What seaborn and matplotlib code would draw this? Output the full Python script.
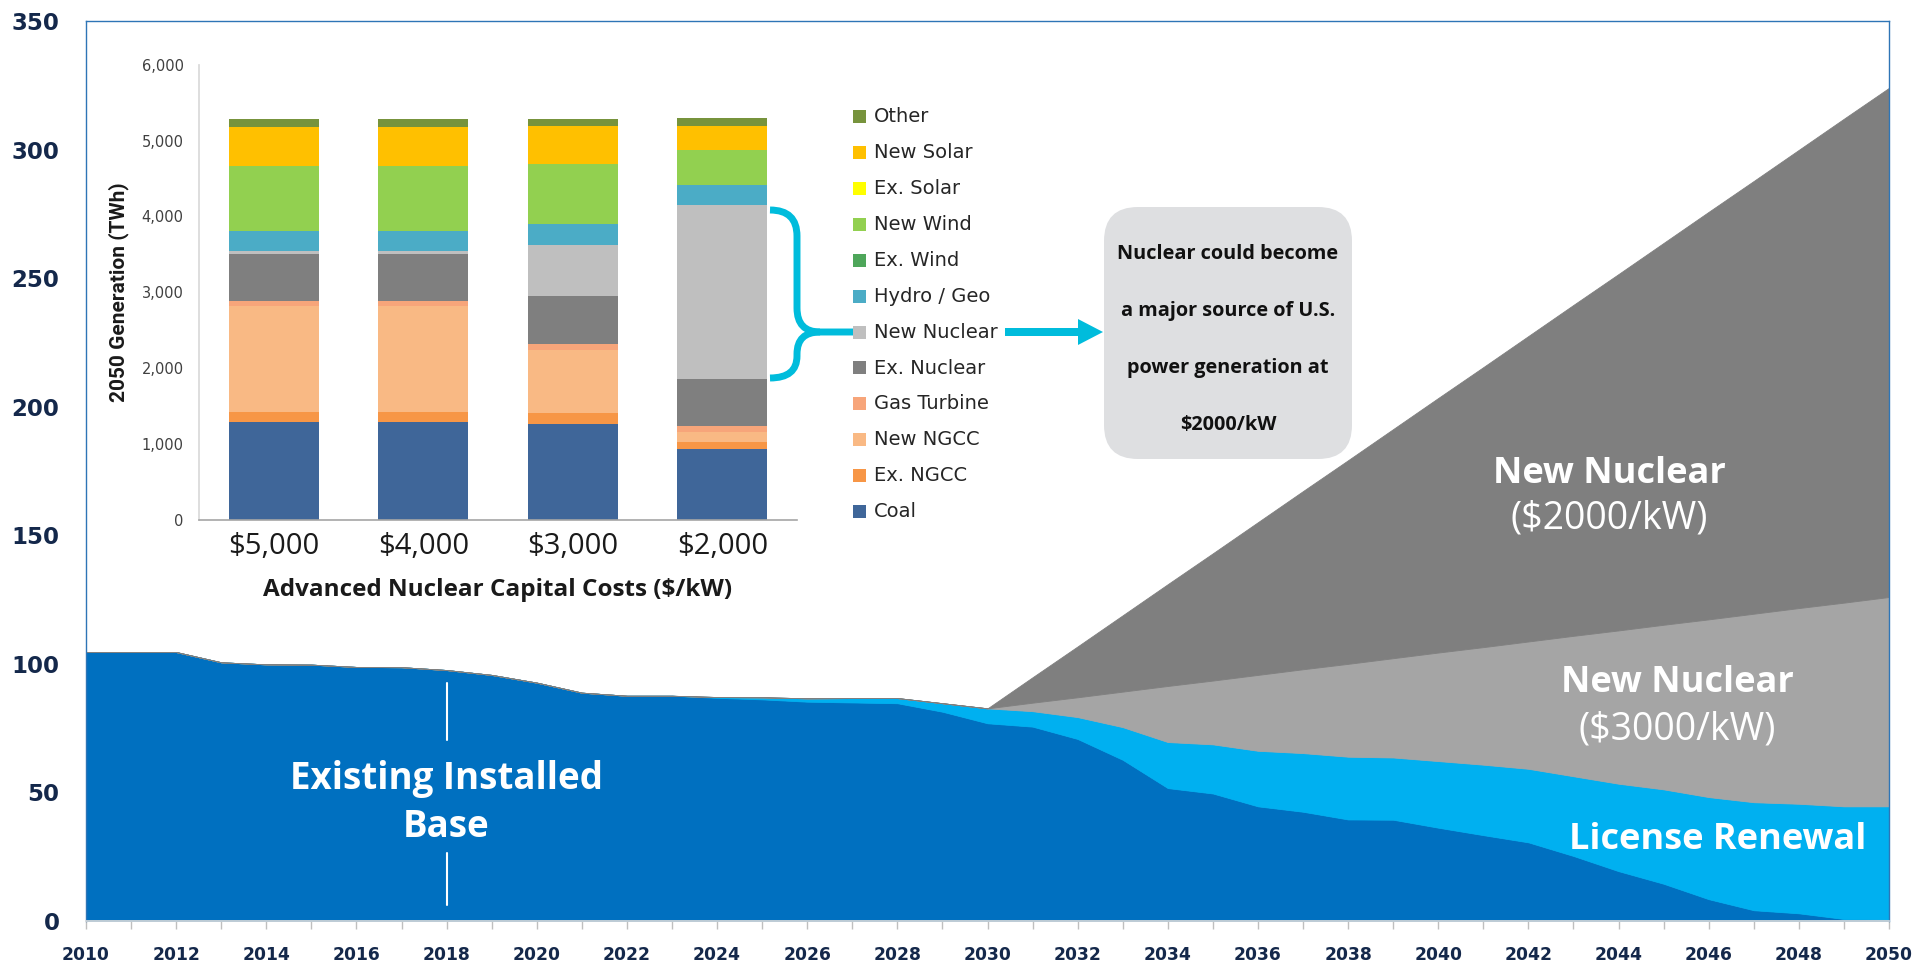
import numpy as np
import pandas as pd
import matplotlib
matplotlib.use("Agg")
import matplotlib.pyplot as plt
import seaborn as sns
from matplotlib.patches import FancyBboxPatch, Rectangle, FancyArrow, PathPatch
from matplotlib.path import Path
from matplotlib.ticker import FuncFormatter, MultipleLocator

# ---------------- main chart data (GW) ----------------
years = list(range(2010, 2051))
existing_base = [104.6, 104.6, 104.6, 100.6, 99.8, 99.7, 98.8, 98.7, 97.6, 95.7,
                 92.7, 88.8, 87.6, 87.6, 86.8, 86.2, 85.3, 85.0, 84.7, 81.4,
                 76.9, 75.6, 70.8, 62.7, 51.7, 49.6, 44.6, 42.5, 39.5, 39.4,
                 36.3, 33.4, 30.6, 25.3, 19.4, 14.5, 8.5, 4.2, 3.0, 0.8, 0.6]
license_renewal = [0, 0, 0, 0, 0, 0, 0, 0, 0, 0,
                   0, 0, 0, 0, 0.3, 0.8, 1.3, 1.7, 2.0, 3.3,
                   5.8, 6.0, 8.5, 12.7, 17.9, 19.1, 21.6, 22.8, 24.4, 24.2,
                   25.9, 27.4, 28.6, 31.0, 34.0, 36.7, 39.7, 42.0, 42.6, 43.8, 44.0]
new_nuclear_3000 = [0] * 21 + [3.3, 7.7, 13.8, 21.8, 24.8, 29.5, 32.6, 36.1, 38.6, 42.2,
                               45.7, 49.5, 54.6, 59.6, 64.0, 69.1, 73.3, 76.1, 79.2, 81.4]
new_nuclear_2000 = [0] * 21 + [9.9, 19.8, 29.7, 39.6, 49.5, 59.4, 69.3, 79.2, 89.1, 99.0,
                               108.9, 118.8, 128.7, 138.6, 148.5, 158.5, 168.3, 178.2, 188.2, 198.0]
y_ticks = [0, 50, 100, 150, 200, 250, 300, 350]
x_ticks = list(range(2010, 2051, 2))

# ---------------- inset data (2050 generation, TWh) ----------------
cost_labels = ["$5,000", "$4,000", "$3,000", "$2,000"]
coal = [1294, 1294, 1265, 929]
ex_ngcc = [131, 131, 136, 92]
new_ngcc = [1387, 1387, 842, 136]
gas_turbine = [68, 68, 73, 73]
ex_nuclear = [623, 623, 628, 623]
new_nuclear = [39, 39, 681, 2297]
hydro_geo = [268, 268, 273, 263]
ex_wind = [0, 0, 0, 0]
new_wind = [852, 852, 798, 462]
ex_solar = [0, 0, 0, 0]
new_solar = [521, 521, 496, 321]
other = [102, 102, 92, 97]
inset_ticks = [0, 1000, 2000, 3000, 4000, 5000, 6000]

layers = [("Coal", coal, "#3F6699"), ("Ex. NGCC", ex_ngcc, "#F79646"),
          ("New NGCC", new_ngcc, "#F9B984"), ("Gas Turbine", gas_turbine, "#F7A57A"),
          ("Ex. Nuclear", ex_nuclear, "#7F7F7F"), ("New Nuclear", new_nuclear, "#BFBFBF"),
          ("Hydro / Geo", hydro_geo, "#4BACC6"), ("Ex. Wind", ex_wind, "#4EA65A"),
          ("New Wind", new_wind, "#92D050"), ("Ex. Solar", ex_solar, "#FFFF00"),
          ("New Solar", new_solar, "#FFC000"), ("Other", other, "#77933C")]

sns.set_theme(style="white")
plt.rcParams["font.family"] = ["DejaVu Sans"]

W, H = 1917, 963
fig = plt.figure(figsize=(W / 100, H / 100), dpi=100)
fig.patch.set_facecolor("white")

navy = "#14284B"
frame_blue = "#2E75B6"
cyan = "#00BCDC"

# ---------------- main area chart ----------------
ax = fig.add_axes([86 / W, 1 - 921 / H, (1889 - 86) / W, (921 - 21) / H])
ax.stackplot(years, existing_base, license_renewal, new_nuclear_3000, new_nuclear_2000,
             colors=["#0070C0", "#00B0F0", "#A5A5A5", "#7F7F7F"],
             linewidth=0.6, edgecolor="face")
ax.set_xlim(2010, 2050)
ax.set_ylim(0, 350)
ax.set_yticks(y_ticks)
ax.set_xticks(x_ticks)
ax.xaxis.set_minor_locator(MultipleLocator(1))
ax.set_yticklabels([str(v) for v in y_ticks], fontweight="bold", fontsize=16.5, color=navy)
ax.set_xticklabels([str(v) for v in x_ticks], fontweight="bold", fontsize=12.3, color=navy)
ax.tick_params(axis="y", length=0, pad=19)
ax.tick_params(axis="x", which="both", length=6, width=1, color="#BFBFBF",
               direction="out", bottom=True, pad=12)
for s in ["left", "top", "right"]:
    ax.spines[s].set_color(frame_blue)
    ax.spines[s].set_linewidth(1.0)
ax.spines["bottom"].set_color("#D9D9D9")
ax.grid(False)

# annotations in main chart
ax.plot([2018, 2018], [70.4, 92.4], color="white", lw=1.5)
ax.plot([2018, 2018], [6.2, 26.3], color="white", lw=1.5)
big = dict(ha="center", va="center", color="white", family="Open Sans")
ax.text(2018, 55.4, "Existing Installed", fontweight="bold", fontsize=26.5, **big)
ax.text(2018, 36.6, "Base", fontweight="bold", fontsize=26.5, **big)
ax.text(2043.8, 174.0, "New Nuclear", fontweight="bold", fontsize=26, **big)
ax.text(2043.8, 156.6, "($2000/kW)", fontweight="normal", fontsize=27, **big)
ax.text(2045.3, 92.6, "New Nuclear", fontweight="bold", fontsize=26, **big)
ax.text(2045.3, 74.6, "($3000/kW)", fontweight="normal", fontsize=27, **big)
ax.text(2046.2, 31.4, "License Renewal", fontweight="bold", fontsize=26, **big)

# ---------------- inset stacked bars ----------------
axi = fig.add_axes([199 / W, 1 - 519.6 / H, (797 - 199) / W, (519.6 - 64.8) / H])
axi.set_facecolor("none")
bottom = np.zeros(len(cost_labels))
for name, vals, col in layers:
    sns.barplot(x=cost_labels, y=vals, order=cost_labels, bottom=bottom.copy(),
                color=col, saturation=1, width=0.6, errorbar=None, linewidth=0, ax=axi)
    bottom += np.array(vals, dtype=float)
axi.set_xlim(-0.5, 3.5)
axi.set_ylim(0, 6000)
axi.set_yticks(inset_ticks)
axi.yaxis.set_major_formatter(FuncFormatter(lambda v, p: f"{int(v):,}"))
axi.tick_params(axis="y", length=0, pad=11, labelsize=10.5, labelcolor="#404040")
axi.tick_params(axis="x", length=0, pad=9)
for lbl in axi.get_xticklabels():
    lbl.set_fontfamily("Open Sans")
    lbl.set_fontsize(21)
    lbl.set_color("#1a1a1a")
for s in ["top", "right"]:
    axi.spines[s].set_visible(False)
axi.spines["left"].set_color("#D9D9D9")
axi.spines["bottom"].set_color("#A6A6A6")
axi.spines["bottom"].set_linewidth(1.2)
axi.set_xlabel("Advanced Nuclear Capital Costs ($/kW)", fontsize=17.5, fontweight="bold",
               family="Open Sans", color="#1a1a1a")
axi.xaxis.set_label_coords(0.5, -(590 - 519.6) / (519.6 - 64.8))
axi.xaxis.label.set_va("center")
axi.set_ylabel("2050 Generation (TWh)", fontsize=15, fontweight="bold",
               family=["Liberation Sans Narrow", "Roboto", "DejaVu Sans"], color="#1a1a1a")
axi.yaxis.set_label_coords(-(199 - 118.5) / (797 - 199), 0.5)
axi.yaxis.label.set_va("center")
axi.grid(False)

# ---------------- overlay: legend, brace, arrow, callout ----------------
ov = fig.add_axes([0, 0, 1, 1], zorder=10)
ov.set_xlim(0, W)
ov.set_ylim(H, 0)
ov.axis("off")

for i, (name, vals, col) in enumerate(reversed(layers)):
    y = 116.7 + i * 35.9
    ov.add_patch(Rectangle((853, y - 6.5), 13, 13, facecolor=col, edgecolor="none"))
    ov.text(874, y, name, ha="left", va="center", fontsize=14, color="#262626")

# curly brace
M, C, L = Path.MOVETO, Path.CURVE3, Path.LINETO
top_v = [(770, 210), (797, 210), (797, 236), (797, 308), (797, 332), (820, 332), (853, 332)]
top_c = [M, C, C, L, C, C, L]
bot_v = [(820, 332), (797, 332), (797, 354), (797, 356), (797, 378), (770, 378)]
bot_c = [M, C, C, L, C, C]
for v, c in [(top_v, top_c), (bot_v, bot_c)]:
    ov.add_patch(PathPatch(Path(v, c), facecolor="none", edgecolor=cyan, lw=5,
                           capstyle="butt", joinstyle="round"))

ov.add_patch(FancyArrow(1005, 332, 98, 0, width=8, head_width=26, head_length=25,
                        length_includes_head=True, color=cyan, lw=0))

ov.add_patch(FancyBboxPatch((1104, 207), 248, 252,
                            boxstyle="round,pad=0,rounding_size=34",
                            facecolor="#DEDFE1", edgecolor="none"))
box_lines = ["Nuclear could become", "a major source of U.S.",
             "power generation at", "$2000/kW"]
for i, t in enumerate(box_lines):
    ov.text(1228, 254 + i * 57, t, ha="center", va="center", fontsize=14.3,
            fontweight="bold", family="Open Sans", color="#111111")

fig.savefig("out.png", dpi=100)
